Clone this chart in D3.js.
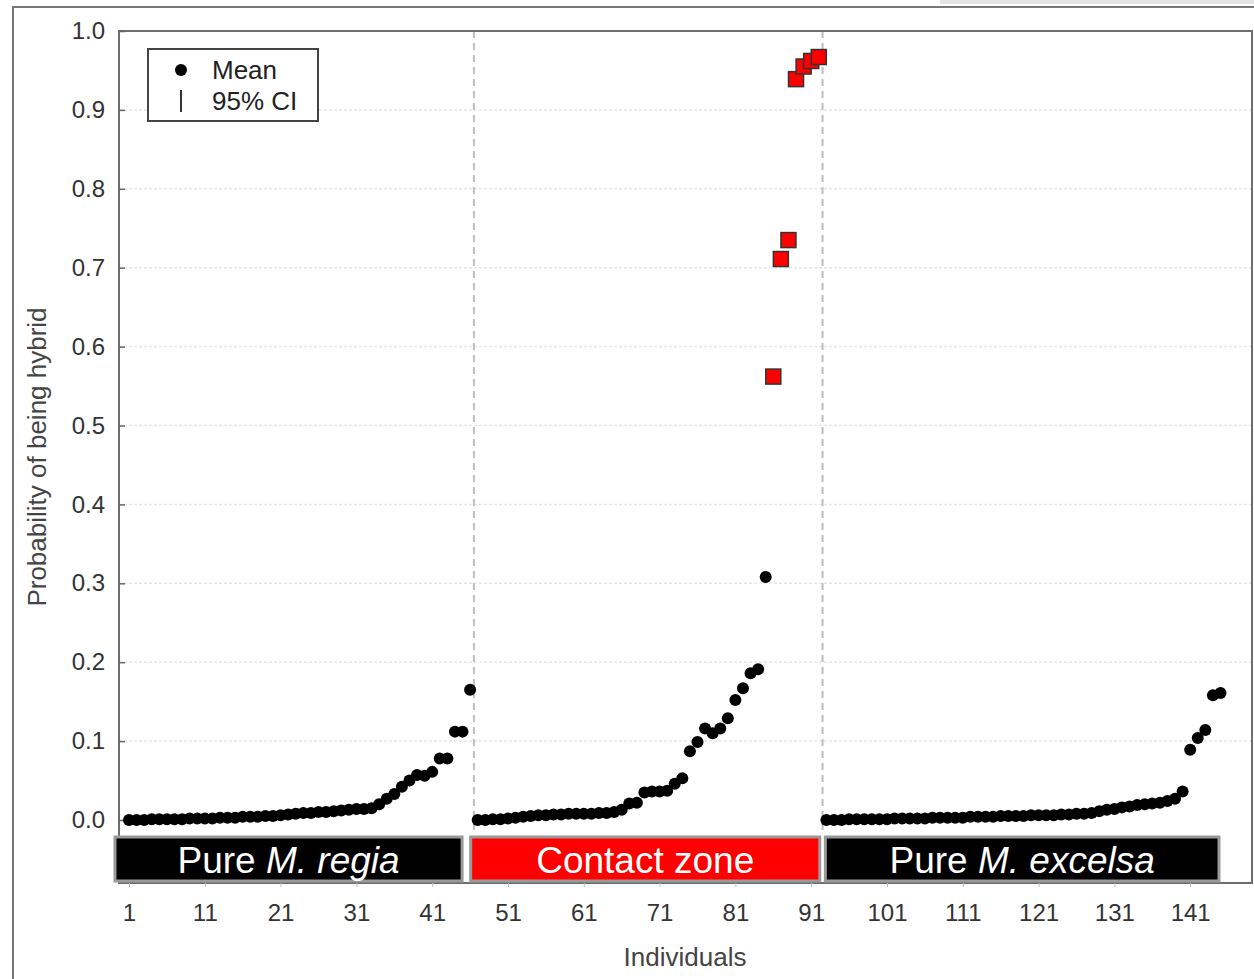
<!DOCTYPE html>
<html>
<head>
<meta charset="utf-8">
<script src="https://cdn.jsdelivr.net/npm/d3@7"></script>
<style>
  body { margin: 0; background: #fff; }
  svg { display: block; font-family: "Liberation Sans", Arial, sans-serif; }
</style>
</head>
<body>
<script>
// probability of being hybrid, individuals sorted within each group
var regia = [0.000, 0.000, 0.000, 0.001, 0.001, 0.001, 0.001, 0.001, 0.002, 0.002,
             0.002, 0.002, 0.003, 0.003, 0.003, 0.004, 0.004, 0.004, 0.005, 0.005,
             0.006, 0.007, 0.008, 0.009, 0.009, 0.010, 0.010, 0.011, 0.012, 0.013,
             0.014, 0.014, 0.015, 0.020, 0.027, 0.033, 0.042, 0.050, 0.057, 0.056,
             0.061, 0.078, 0.078, 0.112, 0.112, 0.165];
var contact = [0.000, 0.000, 0.001, 0.001, 0.002, 0.003, 0.004, 0.005, 0.006, 0.006,
               0.007, 0.007, 0.008, 0.008, 0.008, 0.008, 0.009, 0.009, 0.010, 0.013,
               0.021, 0.022, 0.035, 0.036, 0.036, 0.037, 0.046, 0.053, 0.087, 0.099,
               0.116, 0.110, 0.116, 0.129, 0.152, 0.167, 0.186, 0.191, 0.308, 0.562,
               0.711, 0.735, 0.939, 0.955, 0.962, 0.967];
var excelsa = [0.000, 0.000, 0.000, 0.001, 0.001, 0.001, 0.001, 0.001, 0.001, 0.002,
               0.002, 0.002, 0.002, 0.002, 0.003, 0.003, 0.003, 0.003, 0.003, 0.004,
               0.004, 0.004, 0.004, 0.005, 0.005, 0.005, 0.005, 0.006, 0.006, 0.006,
               0.006, 0.007, 0.007, 0.008, 0.008, 0.009, 0.011, 0.013, 0.014, 0.016,
               0.017, 0.019, 0.020, 0.021, 0.022, 0.024, 0.027, 0.036, 0.089, 0.104,
               0.114, 0.158, 0.161];

var groupNames = ["regia", "contact", "excelsa"];
var xTicks = [1, 11, 21, 31, 41, 51, 61, 71, 81, 91, 101, 111, 121, 131, 141];
var yTicks = [0, 0.1, 0.2, 0.3, 0.4, 0.5, 0.6, 0.7, 0.8, 0.9, 1.0];
var hybridCut = 0.5;

window.onload = drawChart;

function drawChart(){
    var width = 1254,
        height = 979;

    var svg = d3.select("body")
        .append("svg")
        .attr("width", width)
        .attr("height", height);

    // plot frame
    var left = 119, right = 1252, top = 31, bottom = 883;

    var series = [regia, contact, excelsa];
    var points = [];
    var groups = [];
    var n = 0;
    series.forEach(function(vals, g){
        var start = n + 1;
        vals.forEach(function(v){
            n += 1;
            points.push({i: n, p: v, g: g});
        });
        groups.push({name: groupNames[g], start: start, end: n});
    });

    var x = d3.scaleLinear()
        .domain([1, 145])
        .range([129, 1220.5]);

    var y = d3.scaleLinear()
        .domain([0, 1])
        .range([820, top]);

    // outer picture frame
    svg.append("rect")
        .attr("x", 940).attr("y", 0)
        .attr("width", width - 940).attr("height", 4)
        .attr("fill", "#e4e4e4");
    svg.append("path")
        .attr("d", "M13," + height + "V7H" + width)
        .attr("fill", "none")
        .attr("stroke", "#777")
        .attr("stroke-width", 2);

    // grid lines
    svg.append("g")
        .selectAll("line")
        .data(yTicks.slice(1, -1))
        .enter().append("line")
        .attr("x1", left).attr("x2", right)
        .attr("y1", function(d){ return y(d); })
        .attr("y2", function(d){ return y(d); })
        .attr("stroke", "#e6e6e6")
        .attr("stroke-width", 1.5)
        .attr("stroke-dasharray", "3,2");

    // group separators
    svg.append("g")
        .selectAll("line")
        .data(groups.slice(1))
        .enter().append("line")
        .attr("x1", function(d){ return x(d.start - 0.5); })
        .attr("x2", function(d){ return x(d.start - 0.5); })
        .attr("y1", top)
        .attr("y2", 835)
        .attr("stroke", "#bdbdbd")
        .attr("stroke-width", 2)
        .attr("stroke-dasharray", "7,5");

    // plot border
    svg.append("rect")
        .attr("x", left).attr("y", top)
        .attr("width", right - left).attr("height", bottom - top)
        .attr("fill", "none")
        .attr("stroke", "#6e6e6e")
        .attr("stroke-width", 2);

    // y axis
    var yAxis = d3.axisRight(y)
        .tickValues(yTicks)
        .tickFormat(d3.format(".1f"))
        .tickSize(6)
        .tickPadding(0);
    var gy = svg.append("g")
        .attr("transform", "translate(" + left + ",0)")
        .call(yAxis);
    gy.select(".domain").remove();
    gy.selectAll(".tick line").attr("stroke", "#666").attr("stroke-width", 1.5);
    gy.selectAll(".tick text")
        .attr("x", -14)
        .attr("text-anchor", "end")
        .attr("fill", "#333")
        .style("font-size", "24px");

    // x axis
    var xAxis = d3.axisBottom(x)
        .tickValues(xTicks)
        .tickFormat(d3.format("d"))
        .tickSize(4)
        .tickPadding(17);
    var gx = svg.append("g")
        .attr("transform", "translate(0," + bottom + ")")
        .call(xAxis);
    gx.select(".domain").remove();
    gx.selectAll(".tick line").attr("stroke", "#bbb");
    gx.selectAll(".tick text")
        .attr("fill", "#333")
        .style("font-size", "24px");

    // axis titles
    svg.append("text")
        .attr("x", 685).attr("y", 966)
        .attr("text-anchor", "middle")
        .attr("fill", "#444")
        .style("font-size", "26px")
        .text("Individuals");
    svg.append("text")
        .attr("transform", "translate(46,457) rotate(-90)")
        .attr("text-anchor", "middle")
        .attr("fill", "#444")
        .style("font-size", "26px")
        .text("Probability of being hybrid");

    // group label bands
    var bandPad = [[-14, -8], [-7, 1], [-1, -1.5]];
    var bandFill = ["#000", "#ff0000", "#000"];
    var bandLabel = [["Pure ", "M. regia"], ["Contact zone", ""], ["Pure ", "M. excelsa"]];
    var bands = svg.append("g")
        .selectAll("g")
        .data(groups)
        .enter().append("g");
    bands.append("rect")
        .attr("x", function(d, k){ return x(d.start) + bandPad[k][0]; })
        .attr("width", function(d, k){ return x(d.end) + bandPad[k][1] - x(d.start) - bandPad[k][0]; })
        .attr("y", 837)
        .attr("height", 44)
        .attr("fill", function(d, k){ return bandFill[k]; })
        .attr("stroke", "#9a9a9a")
        .attr("stroke-width", 3);
    var bt = bands.append("text")
        .attr("x", function(d, k){ return (x(d.start) + bandPad[k][0] + x(d.end) + bandPad[k][1]) / 2; })
        .attr("y", 873)
        .attr("text-anchor", "middle")
        .attr("fill", "#fff")
        .style("font-size", "37px");
    bt.append("tspan").text(function(d, k){ return bandLabel[k][0]; });
    bt.append("tspan").style("font-style", "italic").text(function(d, k){ return bandLabel[k][1]; });

    // means
    svg.append("g")
        .selectAll("circle")
        .data(points.filter(function(d){ return d.p <= hybridCut; }))
        .enter().append("circle")
        .attr("cx", function(d){ return x(d.i); })
        .attr("cy", function(d){ return y(d.p); })
        .attr("r", 6)
        .attr("fill", "#000");

    // hybrids
    var sq = 15;
    svg.append("g")
        .selectAll("rect")
        .data(points.filter(function(d){ return d.p > hybridCut; }))
        .enter().append("rect")
        .attr("x", function(d){ return x(d.i) - sq / 2; })
        .attr("y", function(d){ return y(d.p) - sq / 2; })
        .attr("width", sq).attr("height", sq)
        .attr("fill", "#ff0000")
        .attr("stroke", "#333")
        .attr("stroke-width", 1.5);

    // legend
    var lg = svg.append("g").attr("transform", "translate(148,49)");
    lg.append("rect")
        .attr("width", 170).attr("height", 72)
        .attr("fill", "#fff")
        .attr("stroke", "#444")
        .attr("stroke-width", 2);
    lg.append("circle").attr("cx", 33).attr("cy", 21).attr("r", 6).attr("fill", "#000");
    lg.append("line")
        .attr("x1", 33).attr("x2", 33).attr("y1", 41).attr("y2", 63)
        .attr("stroke", "#333").attr("stroke-width", 2);
    lg.append("text").attr("x", 64).attr("y", 30).attr("fill", "#222")
        .style("font-size", "26px").text("Mean");
    lg.append("text").attr("x", 64).attr("y", 61).attr("fill", "#222")
        .style("font-size", "26px").text("95% CI");
}
</script>
</body>
</html>
